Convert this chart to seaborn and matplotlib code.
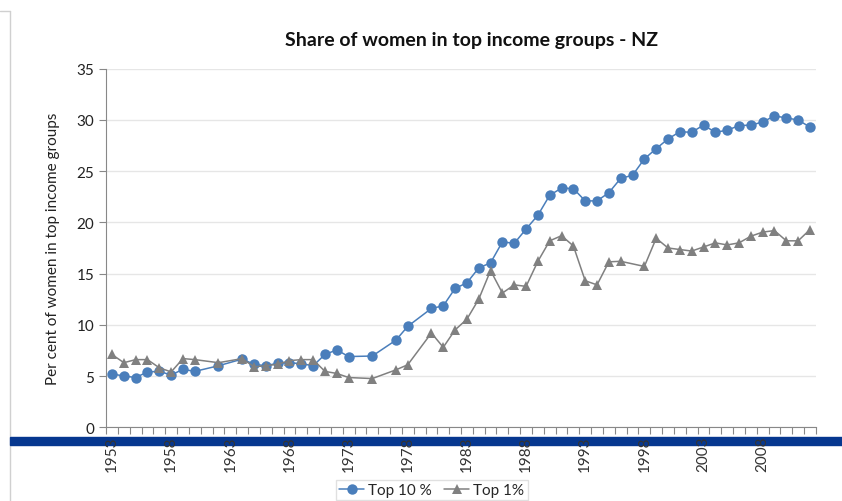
import numpy as np
import pandas as pd
import matplotlib.pyplot as plt
import matplotlib.lines as mlines
import matplotlib.patches as mpatches
import seaborn as sns

nan = np.nan

# Years on the category axis
years = list(range(1953, 2013))

# Share of women (%) in the top 10 % income group
top10 = [5.2, 5.0, 4.85, 5.4, 5.45, 5.1, 5.65, 5.45, nan, 6.0,
         nan, 6.65, 6.15, 6.0, 6.25, 6.3, 6.2, 6.0, 7.1, 7.55,
         6.9, nan, 6.95, nan, 8.5, 9.85, nan, 11.6, 11.85, 13.55,
         14.1, 15.55, 16.05, 18.1, 17.95, 19.35, 20.7, 22.65, 23.35, 23.3,
         22.1, 22.1, 22.9, 24.3, 24.6, 26.2, 27.2, 28.15, 28.85, 28.8,
         29.5, 28.8, 29.0, 29.45, 29.5, 29.8, 30.4, 30.2, 30.0, 29.3]

# Share of women (%) in the top 1 % income group
top1 = [7.1, 6.3, 6.6, 6.6, 5.8, 5.4, 6.7, 6.6, nan, 6.3,
        nan, 6.7, 5.9, 6.0, 6.15, 6.5, 6.6, 6.6, 5.45, 5.25,
        4.85, nan, 4.75, nan, 5.6, 6.1, nan, 9.2, 7.8, 9.5,
        10.55, 12.5, 15.3, 13.1, 13.9, 13.75, 16.2, 18.2, 18.7, 17.7,
        14.3, 13.9, 16.15, 16.2, nan, 15.7, 18.45, 17.5, 17.35, 17.2,
        17.6, 18.0, 17.8, 18.0, 18.65, 19.05, 19.2, 18.2, 18.2, 19.3]

tick_years = list(range(1953, 2012, 5))

df = pd.DataFrame({"year": years, "Top 10 %": top10, "Top 1%": top1})

sns.set_theme(style="white")
plt.rcParams["font.family"] = ["Lato", "DejaVu Sans"]

fig = plt.figure(figsize=(8.42, 5.02), dpi=100)
ax = fig.add_axes([0.126, 0.147, 0.843, 0.714])

# screenshot decorations: dark blue band and left border
fig.patches.append(mpatches.Rectangle((0.012, 0.112), 0.988, 0.016,
                                      transform=fig.transFigure,
                                      color="#06378f", zorder=-5))
fig.lines.append(mlines.Line2D([0.012, 0.012], [0, 0.976], transform=fig.transFigure,
                               color="#d0d0d0", lw=1, zorder=-5))
fig.lines.append(mlines.Line2D([0, 0.012], [0.976, 0.976], transform=fig.transFigure,
                               color="#d0d0d0", lw=1, zorder=-5))

d10 = df[["year", "Top 10 %"]].dropna()
d1 = df[["year", "Top 1%"]].dropna()
sns.lineplot(data=d10, x="year", y="Top 10 %", ax=ax, color="#4a7ebb",
             marker="o", markersize=7.5, markeredgewidth=0, lw=1.1,
             estimator=None, label="Top 10 %")
sns.lineplot(data=d1, x="year", y="Top 1%", ax=ax, color="#808080",
             marker="^", markersize=7.5, markeredgewidth=0, lw=1.1,
             estimator=None, label="Top 1%")

ax.set_xlim(1952.5, 2012.5)
ax.set_ylim(0, 35)
ax.set_yticks(range(0, 36, 5))
ax.set_xticks(tick_years)
ax.set_xticklabels([str(y) for y in tick_years], rotation=90, fontsize=11, color="#333333")
ax.set_xticks(np.arange(1952.5, 2013, 1), minor=True)
ax.tick_params(axis="x", which="major", length=0, pad=6)
ax.tick_params(axis="x", which="minor", length=5, width=0.8, color="#888888", direction="out", bottom=True)
ax.tick_params(axis="y", length=5, width=0.8, color="#888888", direction="out", left=True,
               labelsize=11, labelcolor="#222222")
ax.grid(axis="y", color="#e6e6e6", lw=1)
ax.set_axisbelow(True)
for s in ["top", "right"]:
    ax.spines[s].set_visible(False)
ax.spines["left"].set_color("#888888")
ax.spines["bottom"].set_color("#888888")
ax.spines["left"].set_linewidth(0.8)
ax.spines["bottom"].set_linewidth(0.8)
ax.set_xlabel("")
ax.set_ylabel("Per cent of women in top income groups", fontsize=11, color="#222222", labelpad=12)

fig.text(0.56, 0.92, "Share of women in top income groups - NZ", ha="center", va="center",
         fontsize=14, fontweight="bold", color="#111111")

handles, labels = ax.get_legend_handles_labels()
ax.get_legend().remove()
fig.legend(handles, labels, loc="upper center", bbox_to_anchor=(0.513, 0.042), ncol=2,
           fontsize=11, frameon=True, edgecolor="#d9d9d9", fancybox=False,
           handlelength=1.6, handletextpad=0.3, columnspacing=0.8, borderaxespad=0,
           borderpad=0.2)

fig.savefig("out.png", dpi=100)
